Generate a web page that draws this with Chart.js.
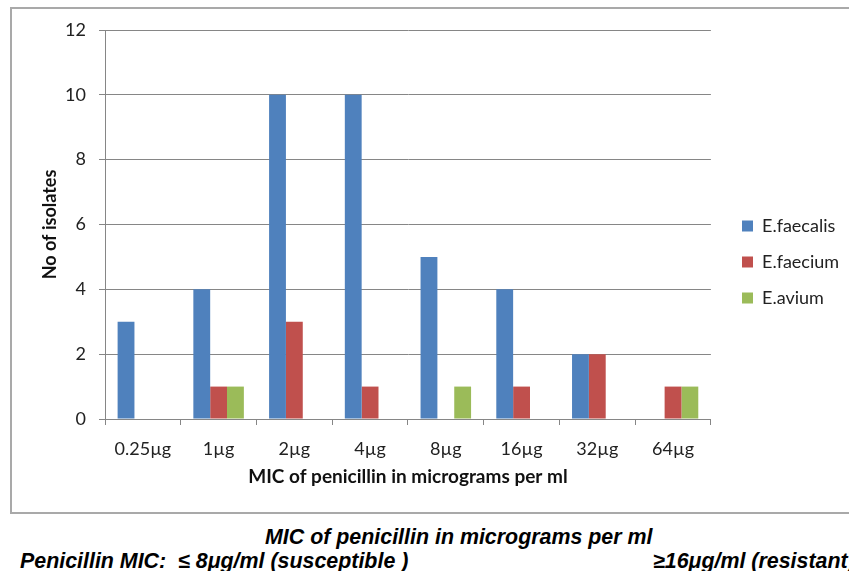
<!DOCTYPE html>
<html><head><meta charset="utf-8">
<script src="https://cdn.jsdelivr.net/npm/chart.js@4"></script>
<style>
html,body{margin:0;padding:0;background:#fff;width:849px;height:571px;overflow:hidden;}
#frame{position:absolute;left:10px;top:7px;width:900px;height:507px;border:2px solid #a9a9a9;box-sizing:border-box;}
#wrap{position:absolute;left:0;top:0;width:849px;height:515px;}
.note{position:absolute;font-family:"Liberation Sans Narrow","Arial Narrow",sans-serif;font-weight:bold;font-style:italic;font-size:21.4px;color:#000;white-space:nowrap;line-height:24px;}
</style></head>
<body>
<div id="frame"></div>
<div id="wrap"><canvas id="c" width="849" height="515"></canvas></div>
<div class="note" style="left:265px;top:525px">MIC of penicillin in micrograms per ml</div>
<div class="note" style="left:20px;top:549px">Penicillin MIC:&nbsp; ≤ 8μg/ml (susceptible )</div>
<div class="note" style="left:653px;top:549px">≥16μg/ml (resistant)</div>
<script>
const categories = ['0.25µg','1µg','2µg','4µg','8µg','16µg','32µg','64µg'];
const faecalis = [3,4,10,10,5,4,2,0];
const faecium  = [0,1,3,1,0,1,2,1];
const avium    = [0,1,0,0,1,0,0,1];
const yTicks = [0,2,4,6,8,10,12];
const seriesNames = ['E.faecalis','E.faecium','E.avium'];

const FONT = 'Lato, "Open Sans", sans-serif';
const AX = '#868686';
const FS = 18;

const legendShift = {
  id:'legendShift',
  afterLayout(chart){
    const lg = chart.legend;
    if(!lg) return;
    const dx = 742 - (lg.left + lg.options.labels.padding);
    lg.left += dx; lg.right += dx;
    lg.top += 3; lg.bottom += 3;
  }
};

new Chart(document.getElementById('c'), {
  type:'bar',
  data:{
    labels: categories,
    datasets:[
      {label:seriesNames[0], data:faecalis, backgroundColor:'#4F81BD'},
      {label:seriesNames[1], data:faecium, backgroundColor:'#C0504D'},
      {label:seriesNames[2], data:avium, backgroundColor:'#9BBB59'}
    ]
  },
  plugins:[legendShift],
  options:{
    responsive:false,
    animation:false,
    devicePixelRatio:1,
    categoryPercentage:0.667,
    barPercentage:1,
    layout:{padding:{left:35, top:30, right:13, bottom:27}},
    plugins:{
      tooltip:{enabled:false},
      legend:{
        position:'right',
        maxWidth:126,
        labels:{boxWidth:11, boxHeight:11, padding:18, color:'#222', font:{family:FONT, size:FS}}
      }
    },
    scales:{
      x:{
        grid:{display:true, drawOnChartArea:false, drawTicks:true, tickLength:6, color:AX, offset:true},
        border:{color:AX, width:1},
        ticks:{color:'#222', font:{family:FONT, size:FS}, padding:13},
        title:{display:true, text:'MIC of penicillin in micrograms per ml', color:'#111', font:{family:FONT, size:19, weight:'bold'}, padding:{top:4,bottom:0}},
        afterFit(s){ s.height = 69; }
      },
      y:{
        min:0, max:12,
        afterBuildTicks(s){ s.ticks = yTicks.map(v=>({value:v})); },
        grid:{color:AX, tickLength:6},
        border:{color:AX, width:1},
        ticks:{color:'#222', font:{family:FONT, size:FS}, padding:13},
        title:{display:true, text:'No of isolates', color:'#111', font:{family:FONT, size:FS, weight:'bold'}, padding:{top:4,bottom:0}},
        afterFit(s){ s.width = 70; }
      }
    }
  }
});
</script>
</body></html>
